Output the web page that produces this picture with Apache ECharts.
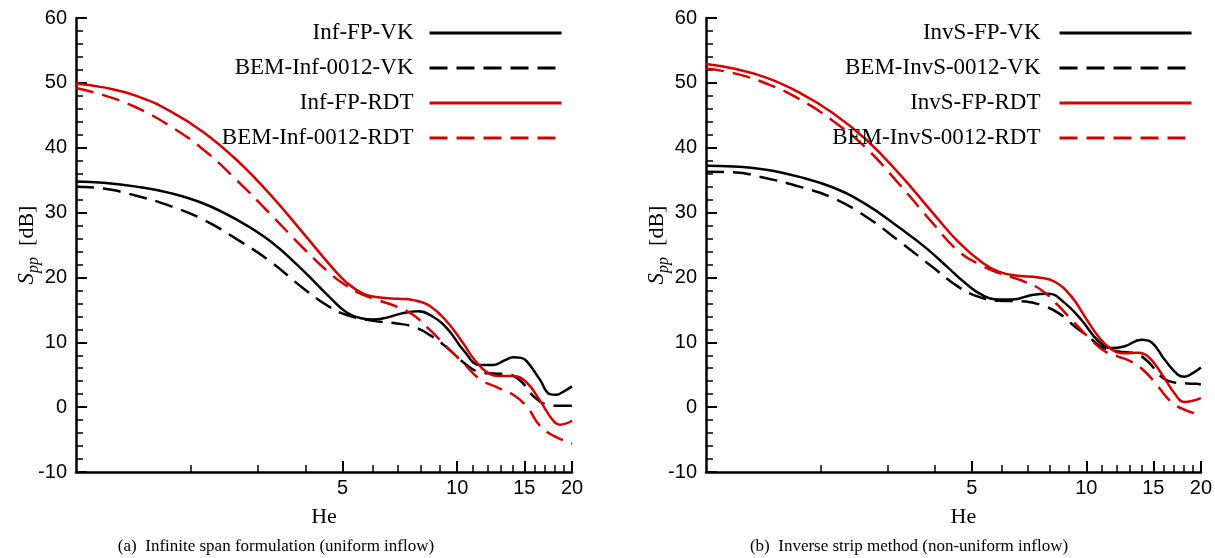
<!DOCTYPE html>
<html>
<head>
<meta charset="utf-8">
<script src="https://cdn.jsdelivr.net/npm/echarts@6/dist/echarts.min.js"></script>
<style>
html, body { margin: 0; padding: 0; background: #fff; }
#chart { width: 1215px; height: 558px; }
</style>
</head>
<body>
<div id="chart"></div>
<script>
// He ticks (log axis)
const heMajor = [5, 10, 15, 20];
const heMinor = [2, 3, 4, 6, 7, 8, 9, 11, 12, 13, 14, 16, 17, 18, 19];

// (a) infinite span
const infFpVkHe = [1, 1.18, 1.44, 1.77, 2.16, 2.64, 3.23, 3.95, 4.64, 5.13, 5.6, 6.03, 6.53, 7.2, 7.9, 8.48, 9.39, 10.38, 11.47, 12.44, 13.3, 14.03, 14.7, 15.21, 16.49, 17.5, 18.2, 19, 20];
const infFpVk = [34.8, 34.6, 34.0, 33.0, 31.4, 28.9, 25.6, 21.0, 16.9, 14.6, 13.7, 13.5, 13.8, 14.5, 14.8, 14.2, 12.2, 8.8, 6.5, 6.5, 7.2, 7.7, 7.6, 7.1, 4.2, 2.0, 1.9, 2.4, 3.2];

const bemInfVkHe = [1, 1.18, 1.44, 1.77, 2.16, 2.64, 3.23, 3.95, 4.64, 5.13, 6.03, 6.94, 7.67, 8.48, 9.39, 10.38, 11.47, 12.5, 13.48, 14.62, 15.84, 17.17, 18.5, 20];
const bemInfVk = [34.0, 33.7, 32.6, 31.0, 28.9, 25.9, 22.5, 18.3, 15.4, 14.2, 13.3, 12.9, 12.4, 11.1, 9.2, 6.9, 5.4, 5.2, 5.1, 4.1, 1.7, 0.4, 0.2, 0.2];

const infFpRdtHe = [1, 1.18, 1.44, 1.77, 2.16, 2.64, 3.23, 3.95, 4.64, 5.13, 5.67, 6.27, 7.0, 7.67, 8.48, 9.39, 10.38, 11.03, 11.95, 12.95, 14.03, 15.21, 16.49, 17.86, 18.6, 20];
const infFpRdt = [49.9, 49.3, 48.0, 45.6, 42.4, 38.1, 32.8, 26.8, 21.9, 19.2, 17.5, 16.9, 16.7, 16.5, 15.6, 13.2, 9.8, 7.5, 5.4, 4.8, 4.8, 3.8, 1.0, -2.1, -2.7, -2.1];

const bemInfRdtHe = [1, 1.18, 1.44, 1.77, 2.16, 2.64, 3.23, 3.95, 4.64, 5.13, 5.67, 6.27, 6.94, 7.67, 8.48, 9.39, 10.38, 11.47, 12.69, 14.03, 15.21, 16.49, 17.86, 20];
const bemInfRdt = [49.2, 48.1, 46.2, 43.3, 39.7, 35.0, 29.8, 24.5, 20.6, 18.7, 17.3, 16.4, 15.5, 14.2, 11.9, 9.3, 6.8, 4.3, 3.1, 1.9, 0.1, -2.9, -4.4, -5.6];

// (b) inverse strip
const invFpVkHe = [1, 1.18, 1.44, 1.76, 2.15, 2.63, 3.22, 3.78, 4.35, 4.81, 5.32, 5.88, 6.38, 7.19, 7.95, 8.8, 9.72, 10.75, 11.65, 12.62, 13.96, 14.83, 16.07, 17.4, 18.11, 19, 20];
const invFpVk = [37.2, 37.1, 36.6, 35.5, 33.9, 31.3, 27.7, 24.6, 21.4, 19.1, 17.3, 16.6, 16.6, 17.3, 17.5, 16.0, 13.4, 10.2, 9.1, 9.4, 10.4, 10.0, 7.3, 5.0, 4.7, 5.2, 6.1];

const bemInvVkHe = [1, 1.18, 1.44, 1.76, 2.15, 2.63, 3.22, 3.94, 4.62, 5.22, 5.88, 6.91, 7.64, 8.45, 9.34, 10.12, 10.96, 12.13, 13.41, 14.53, 15.75, 17.06, 19.45, 20];
const bemInvVk = [36.3, 36.2, 35.3, 34.0, 32.3, 29.4, 25.6, 21.6, 18.5, 17.0, 16.4, 16.3, 15.7, 14.5, 12.4, 10.9, 9.3, 8.6, 8.3, 7.0, 4.7, 3.8, 3.6, 3.5];

const invFpRdtHe = [1, 1.18, 1.44, 1.76, 2.15, 2.63, 3.22, 3.94, 4.62, 5.32, 5.88, 6.51, 7.49, 8.28, 9.15, 9.92, 10.75, 11.65, 12.62, 13.68, 14.53, 15.75, 17.06, 18.11, 20];
const invFpRdt = [52.9, 52.2, 50.8, 48.5, 45.4, 41.3, 36.0, 30.0, 25.4, 22.3, 20.9, 20.3, 20.0, 19.3, 17.0, 13.9, 10.9, 8.9, 8.3, 8.4, 7.8, 5.2, 2.1, 0.8, 1.4];

const bemInvRdtHe = [1, 1.18, 1.44, 1.76, 2.15, 2.63, 3.22, 3.94, 4.62, 5.32, 5.88, 6.91, 7.64, 8.45, 9.34, 10.32, 11.19, 12.13, 13.14, 14.25, 15.43, 16.72, 18.11, 20];
const bemInvRdt = [52.2, 51.5, 49.9, 47.5, 44.2, 40.0, 34.4, 28.4, 24.0, 21.8, 20.7, 19.3, 18.0, 15.6, 12.9, 10.3, 8.6, 7.8, 7.0, 5.5, 3.2, 0.8, -0.4, -1.2];

const RED = '#d40000';
const serif = 'Liberation Serif';
const sans = 'Liberation Sans';

function line(name, he, vals, color, dashed, g) {
    return {
        name: name,
        type: 'line',
        xAxisIndex: g * 3,
        yAxisIndex: g,
        data: he.map((h, i) => [h, vals[i]]),
        symbol: 'none',
        smooth: 0.45,
        lineStyle: { color: color, width: 2.5, type: dashed ? [18, 9] : 'solid' },
        itemStyle: { color: color },
        emphasis: { disabled: true }
    };
}

function logAxis(g, shift) {
    return {
        type: 'log', logBase: 10, gridIndex: g, min: 1, max: 20, position: 'bottom',
        axisLine: { show: true, onZero: false, lineStyle: { color: '#000', width: 2.5 } },
        axisTick: { show: false }, axisLabel: { show: false },
        splitLine: { show: false }, minorTick: { show: false }, minorSplitLine: { show: false },
        name: 'He', nameLocation: 'middle', nameGap: 34, nameMoveOverlap: false,
        nameTextStyle: { fontFamily: serif, fontSize: 22, color: '#000', padding: [0, 0, 0, shift] }
    };
}

// overlay axes in log10 space, only for the tick marks and labels
function tickAxis(g, values, len, width, withLabels) {
    const pos = values.map(v => Math.log10(v));
    return {
        type: 'value', gridIndex: g, min: 0, max: Math.log10(20), position: 'bottom',
        axisLine: { show: false, onZero: false }, splitLine: { show: false },
        axisTick: { show: true, inside: true, length: len, customValues: pos, lineStyle: { color: '#000', width: width } },
        axisLabel: withLabels ? {
            show: true, customValues: pos, margin: 6,
            formatter: v => String(Math.round(Math.pow(10, v))),
            fontFamily: sans, fontSize: 20, color: '#000'
        } : { show: false }
    };
}

function yAxis(g) {
    return {
        type: 'value', gridIndex: g, min: -10, max: 60, interval: 10,
        axisLine: { show: true, lineStyle: { color: '#000', width: 2.5 } },
        axisTick: { inside: true, length: 11, lineStyle: { color: '#000', width: 2 } },
        minorTick: { show: true, splitNumber: 5, length: 7, lineStyle: { color: '#000', width: 1.5 } },
        splitLine: { show: false },
        axisLabel: { fontFamily: sans, fontSize: 20, color: '#000', margin: 9 },
        name: '{s|S}{sub|pp}{n|  [dB]}',
        nameLocation: 'middle', nameGap: 34, nameRotate: 90, nameMoveOverlap: false,
        nameTextStyle: {
            rich: {
                s: { fontFamily: serif, fontStyle: 'italic', fontSize: 23, color: '#000' },
                sub: { fontFamily: serif, fontStyle: 'italic', fontSize: 16, color: '#000', verticalAlign: 'bottom', padding: [14, 0, 0, 0] },
                n: { fontFamily: serif, fontSize: 22, color: '#000' }
            }
        }
    };
}

function legend(names, right, gap) {
    return {
        data: names, orient: 'vertical', right: right, top: 21, align: 'right',
        itemWidth: 132, itemHeight: 24, itemGap: 11, padding: 0, selectedMode: false,
        itemStyle: { opacity: 0 },
        lineStyle: { width: 3 },
        textStyle: { fontFamily: serif, fontSize: 23, color: '#000', lineHeight: 24, padding: [0, gap, 0, 0] }
    };
}

const chart = echarts.init(document.getElementById('chart'), null, { renderer: 'canvas' });
chart.setOption({
    animation: false,
    backgroundColor: '#fff',
    grid: [
        { left: 76, top: 18, width: 496, height: 454 },
        { left: 706, top: 18, width: 497, height: 454 }
    ],
    xAxis: [
        logAxis(0, 0), tickAxis(0, heMajor, 11, 2, true), tickAxis(0, heMinor, 7, 1.5, false),
        logAxis(1, 20), tickAxis(1, heMajor, 11, 2, true), tickAxis(1, heMinor, 7, 1.5, false)
    ],
    yAxis: [yAxis(0), yAxis(1)],
    legend: [
        legend(['Inf-FP-VK', 'BEM-Inf-0012-VK', 'Inf-FP-RDT', 'BEM-Inf-0012-RDT'], 652, 11),
        legend(['InvS-FP-VK', 'BEM-InvS-0012-VK', 'InvS-FP-RDT', 'BEM-InvS-0012-RDT'], 22, 14)
    ],
    graphic: [
        { type: 'text', x: 276, y: 547, style: { text: '(a)  Infinite span formulation (uniform inflow)', font: '17px "Liberation Serif"', fill: '#000', align: 'center', verticalAlign: 'middle' } },
        { type: 'text', x: 909, y: 547, style: { text: '(b)  Inverse strip method (non-uniform inflow)', font: '17px "Liberation Serif"', fill: '#000', align: 'center', verticalAlign: 'middle' } }
    ],
    series: [
        line('Inf-FP-VK', infFpVkHe, infFpVk, '#000', false, 0),
        line('BEM-Inf-0012-VK', bemInfVkHe, bemInfVk, '#000', true, 0),
        line('Inf-FP-RDT', infFpRdtHe, infFpRdt, RED, false, 0),
        line('BEM-Inf-0012-RDT', bemInfRdtHe, bemInfRdt, RED, true, 0),
        line('InvS-FP-VK', invFpVkHe, invFpVk, '#000', false, 1),
        line('BEM-InvS-0012-VK', bemInvVkHe, bemInvVk, '#000', true, 1),
        line('InvS-FP-RDT', invFpRdtHe, invFpRdt, RED, false, 1),
        line('BEM-InvS-0012-RDT', bemInvRdtHe, bemInvRdt, RED, true, 1)
    ]
});
</script>
</body>
</html>
